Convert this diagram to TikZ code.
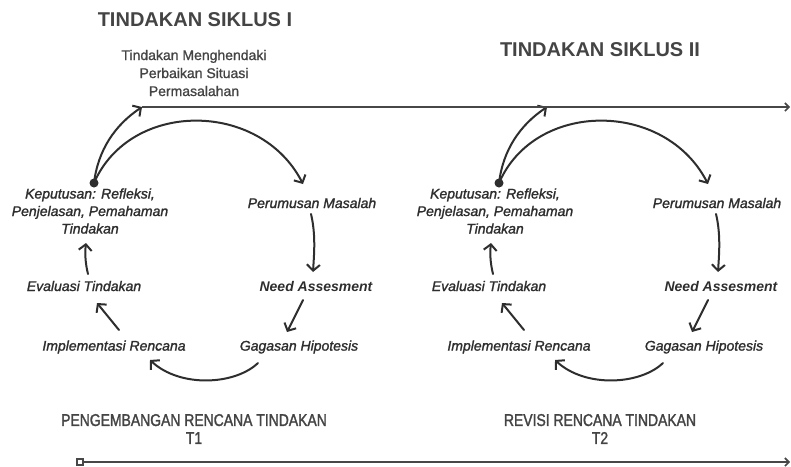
\documentclass[tikz,border=0pt]{standalone}
\usepackage{fontspec}
\setmainfont{Liberation Sans}
\newfontfamily\condfont[FakeStretch=0.82,FakeBold=1.6]{Liberation Sans}
\newfontfamily\meditfont[FakeBold=1.4]{Liberation Sans Italic}
\newfontfamily\medfont[FakeBold=1.0]{Liberation Sans}
\usetikzlibrary{arrows.meta}
\definecolor{ink}{HTML}{2E2E2E}
\definecolor{titlec}{HTML}{444444}
\definecolor{linec}{HTML}{474747}
\begin{document}
\begin{tikzpicture}[x=1pt,y=-1pt,
  lbl/.style={inner sep=0pt, align=center, text=ink, font=\fontsize{14}{17.5}\selectfont\meditfont},
  blbl/.style={lbl, font=\fontsize{14}{17.5}\selectfont\bfseries\itshape},
  ttl/.style={inner sep=0pt, align=center, text=titlec, font=\fontsize{20}{22}\selectfont\bfseries},
  toplbl/.style={inner sep=0pt, align=center, text=titlec, font=\fontsize{14}{18}\selectfont\medfont},
  botlbl/.style={inner sep=0pt, align=center, text=titlec, font=\fontsize{17}{18}\selectfont\condfont},
  arr/.style={draw=ink, line width=2pt, line cap=round, -{Straight Barb[length=6pt,width=13pt,line width=2pt]}},
  tline/.style={draw=linec, line width=2.4pt, -{Straight Barb[length=4pt,width=8pt,line width=1.6pt]}}]
\useasboundingbox (0,0) rectangle (791,466);
\fill[white] (0,0) rectangle (791,466);

% titles
\node[ttl] (title1) at (195,20) {TINDAKAN SIKLUS I};
\node[ttl] (title2) at (600,50) {TINDAKAN SIKLUS II};
\node[toplbl] (wish) at (194,73) {Tindakan Menghendaki\\Perbaikan Situasi\\Permasalahan};

% bottom labels
\node[botlbl] (plan1) at (194,429) {PENGEMBANGAN RENCANA TINDAKAN\\T1};
\node[botlbl] (plan2) at (600,429) {REVISI RENCANA TINDAKAN\\T2};

\foreach \c/\dx in {1/0,2/405}{
 \begin{scope}[xshift=\dx pt]
  \node[lbl]  (k\c) at (90,211) {Keputusan: Refleksi,\\Penjelasan, Pemahaman\\Tindakan};
  \node[lbl]  (p\c) at (312,203) {Perumusan Masalah};
  \node[blbl] (n\c) at (316,286) {Need Assesment};
  \node[lbl]  (g\c) at (299,347) {Gagasan Hipotesis};
  \node[lbl]  (i\c) at (114,347) {Implementasi Rencana};
  \node[lbl]  (e\c) at (84,286) {Evaluasi Tindakan};
  \coordinate (d\c) at (94,183);
  \coordinate (t\c) at (142,107);
  \coordinate (pin\c) at (303,184);
  \coordinate (pout\c) at (311,214);
  \coordinate (nin\c) at (313,272);
  \coordinate (nout\c) at (303,300);
  \coordinate (gin\c) at (287,332);
  \coordinate (gout\c) at (258,363);
  \coordinate (iin\c) at (150,360);
  \coordinate (iout\c) at (119,330);
  \coordinate (ein\c) at (97,303);
  \coordinate (eout\c) at (88,274);
  \coordinate (kin\c) at (86,243);
  \draw[arr] (d\c) .. controls +(4,-33) and +(-27,18) .. (t\c);
  \draw[arr] (d\c) .. controls +(36,-83) and +(-43,-84) .. (pin\c);
  \draw[arr] (pout\c) .. controls +(5,21) and +(1,-17) .. (nin\c);
  \draw[arr] (nout\c) -- (gin\c);
  \draw[arr] (gout\c) .. controls +(-23,22) and +(30,28) .. (iin\c);
  \draw[arr] (iout\c) -- (ein\c);
  \draw[arr] (eout\c) .. controls +(-3,-12) and +(-1,9) .. (kin\c);
  \fill[ink] (d\c) circle (4.5);
 \end{scope}
}

% top time line
\coordinate (topend) at (790,107);
\draw[tline] (t1) -- (topend);

% bottom time line
\node[draw=linec, line width=1.5pt, minimum size=6pt, inner sep=0pt, fill=white] (sq) at (80,462) {};
\coordinate (botend) at (790,462);
\draw[tline] (sq.east) -- (botend);
\end{tikzpicture}
\end{document}
